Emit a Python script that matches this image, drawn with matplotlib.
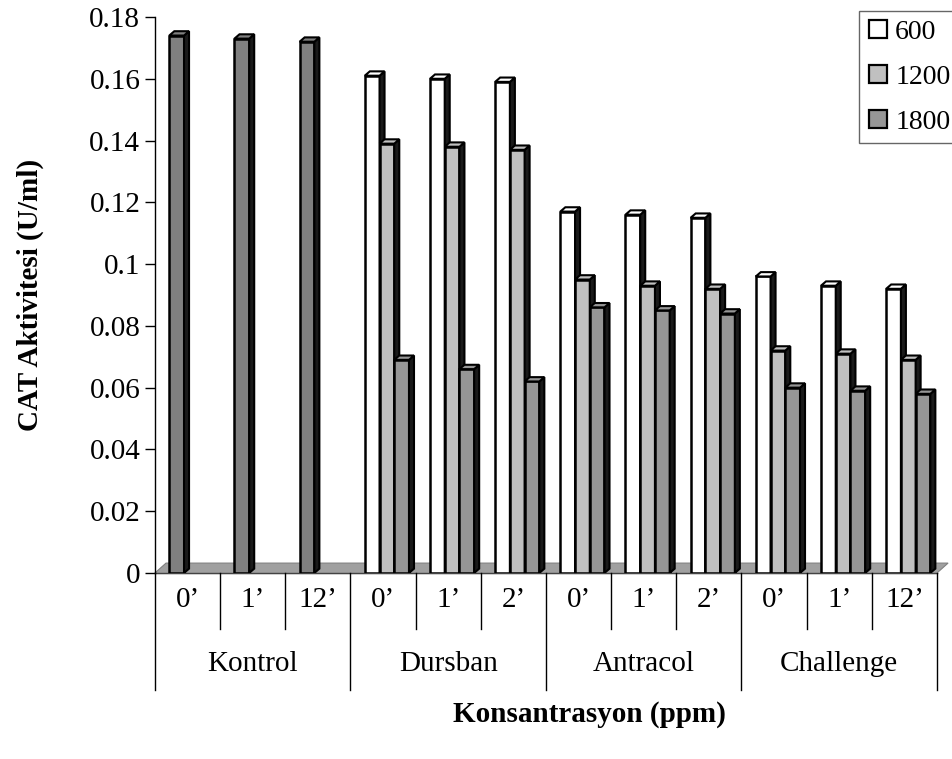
import numpy as np
import matplotlib
matplotlib.use('Agg')
import matplotlib.pyplot as plt
from matplotlib.patches import Polygon
from matplotlib.lines import Line2D
from matplotlib.ticker import FuncFormatter

plt.rcParams['font.family'] = ['Liberation Serif', 'DejaVu Serif']

groups = ['Kontrol', 'Dursban', 'Antracol', 'Challenge']
sub_labels = ['0\u2019', '1\u2019', '12\u2019', '0\u2019', '1\u2019', '2\u2019',
              '0\u2019', '1\u2019', '2\u2019', '0\u2019', '1\u2019', '12\u2019']
series_names = ['600', '1200', '1800']

# Kontrol sadece tek bar (600 pozisyonunda)
kontrol = [0.174, 0.173, 0.172]
s600 = [0.161, 0.160, 0.159, 0.117, 0.116, 0.115, 0.096, 0.093, 0.092]
s1200 = [0.139, 0.138, 0.137, 0.095, 0.093, 0.092, 0.072, 0.071, 0.069]
s1800 = [0.069, 0.066, 0.062, 0.086, 0.085, 0.084, 0.060, 0.059, 0.058]

colors = ['#ffffff', '#c0c0c0', '#969696']
kontrol_color = '#808080'

fig = plt.figure(figsize=(9.53, 7.59), dpi=100)
ax = fig.add_axes([0.1626, 0.2451, 0.8206, 0.7325])
ax.set_xlim(0, 12)
ax.set_ylim(0, 0.18)

W = 0.226
OFF = 0.22
DX = 0.077
DY = 0.0014
z = [3]


def bar3d(x, h, face):
    zz = z[0]
    ax.bar(x, h, width=W, align='edge', color=face, edgecolor='black',
           linewidth=1.8, zorder=zz)
    side = Polygon([(x + W, 0), (x + W + DX, DY), (x + W + DX, h + DY), (x + W, h)],
                   closed=True, facecolor='#1a1a1a', edgecolor='black', lw=1.5, zorder=zz)
    top = Polygon([(x, h), (x + W, h), (x + W + DX, h + DY), (x + DX, h + DY)],
                  closed=True, facecolor=face, edgecolor='black', lw=1.5, zorder=zz)
    ax.add_patch(side)
    ax.add_patch(top)
    z[0] += 1


# zemin
fdx, fdy = 0.17, 0.0032
floor = Polygon([(0, 0), (12, 0), (12 + fdx, fdy), (fdx, fdy)], closed=True,
                facecolor='#a0a0a0', edgecolor='#808080', lw=0.8, zorder=2, clip_on=False)
ax.add_patch(floor)

for i, v in enumerate(kontrol):
    bar3d(i + OFF, v, kontrol_color)

for k in range(9):
    slot = k + 3
    for j, vals in enumerate([s600, s1200, s1800]):
        bar3d(slot + OFF + j * W, vals[k], colors[j])

# eksenler
for s in ['top', 'right']:
    ax.spines[s].set_visible(False)
ax.spines['left'].set_linewidth(1.0)
ax.spines['bottom'].set_linewidth(1.0)
ax.spines['bottom'].set_zorder(1)
ax.set_yticks(np.arange(0, 0.181, 0.02))
ax.yaxis.set_major_formatter(FuncFormatter(lambda v, p: '%g' % round(v, 2)))
ax.tick_params(axis='y', direction='out', length=7, width=1, labelsize=21, pad=3.5)
ax.set_xticks([])

tr = ax.get_xaxis_transform()
for i in range(13):
    y_end = -0.2104 if i % 3 == 0 else -0.1007
    ax.plot([i, i], [0, y_end], color='black', lw=1, transform=tr, clip_on=False)
for i, lab in enumerate(sub_labels):
    ax.text(i + 0.5, -0.0486, lab, transform=tr, ha='center', va='center', fontsize=21)
for g, name in enumerate(groups):
    ax.text(g * 3 + 1.5, -0.163, name, transform=tr, ha='center', va='center', fontsize=21)

ax.set_ylabel('CAT Aktivitesi (U/ml)', fontsize=21, fontweight='bold', labelpad=33)
fig.text(0.619, 0.059, 'Konsantrasyon (ppm)', ha='center', va='center',
         fontsize=21, fontweight='bold')

handles = [Line2D([], [], linestyle='none', marker='s', markersize=12.5,
                  markerfacecolor=c, markeredgecolor='black', markeredgewidth=1.6)
           for c in colors]
leg = fig.legend(handles, series_names, loc='upper right', bbox_to_anchor=(1.006, 0.985),
                 fontsize=20, frameon=True, fancybox=False, handlelength=0.75,
                 handletextpad=0.25, borderpad=0.3, labelspacing=0.7, borderaxespad=0)
leg.get_frame().set_edgecolor('#404040')
leg.get_frame().set_linewidth(1.0)

fig.savefig('out.png', dpi=100)
